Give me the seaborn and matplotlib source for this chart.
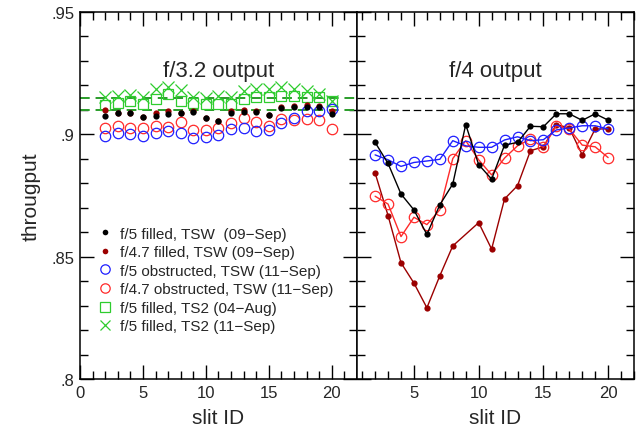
import matplotlib
matplotlib.use("Agg")
import matplotlib.pyplot as plt
import pandas as pd
import seaborn as sns
from matplotlib.ticker import FixedLocator, MultipleLocator


# DATA

slit_id = list(range(2, 21))
slit_id_no9 = [2, 3, 4, 5, 6, 7, 8, 10, 11, 12, 13, 14, 15, 16, 17, 18, 19, 20]

# f/3.2 output (left panel)
left_f5_filled_tsw = [0.9074, 0.9086, 0.9087, 0.9070, 0.9074, 0.9083, 0.9087, 0.9093, 0.9066, 0.9054,
                      0.9086, 0.9090, 0.9093, 0.9079, 0.9108, 0.9110, 0.9113, 0.9113, 0.9083]
left_f47_filled_tsw = [0.9099, 0.9088, 0.9089, 0.9071, 0.9087, 0.9097, 0.9088, 0.9094, 0.9067, 0.9055,
                       0.9097, 0.9099, 0.9094, 0.9081, 0.9111, 0.9115, 0.9118, 0.9117, 0.9094]
left_f5_obstr_tsw = [0.8994, 0.9004, 0.9001, 0.8994, 0.9004, 0.9012, 0.9005, 0.8984, 0.8988, 0.8998,
                     0.9022, 0.9026, 0.9015, 0.9019, 0.9046, 0.9067, 0.9095, 0.9095, 0.9104]
left_f47_obstr_tsw = [0.9026, 0.9035, 0.9024, 0.9024, 0.9032, 0.9031, 0.9049, 0.9019, 0.9019, 0.9027,
                      0.9046, 0.9066, 0.9052, 0.9035, 0.9063, 0.9060, 0.9063, 0.9060, 0.9022]
left_f5_filled_ts2_aug = [0.9121, 0.9128, 0.9135, 0.9124, 0.9144, 0.9165, 0.9137, 0.9128, 0.9124, 0.9125,
                          0.9124, 0.9144, 0.9151, 0.9151, 0.9158, 0.9158, 0.9151, 0.9151, 0.9137]
left_f5_filled_ts2_sep = [0.9154, 0.9158, 0.9161, 0.9154, 0.9185, 0.9192, 0.9182, 0.9151, 0.9149, 0.9158,
                          0.9154, 0.9178, 0.9185, 0.9185, 0.9192, 0.9185, 0.9178, 0.9165, 0.9137]

# f/4 output (right panel)
right_f5_filled_tsw = [0.8967, 0.8881, 0.8756, 0.8691, 0.8591, 0.8712, 0.8797, 0.9040, 0.8876, 0.8817,
                       0.8956, 0.8967, 0.9033, 0.9031, 0.9084, 0.9084, 0.9057, 0.9084, 0.9058]
right_f47_filled_tsw = [0.8842, 0.8668, 0.8475, 0.8392, 0.8291, 0.8422, 0.8544, 0.8639, 0.8531,
                        0.8736, 0.8790, 0.8933, 0.8949, 0.9040, 0.9026, 0.8916, 0.9022, 0.9022]
right_f5_obstr_tsw = [0.8916, 0.8896, 0.8869, 0.8885, 0.8891, 0.8898, 0.8974, 0.8953, 0.8947, 0.8947,
                      0.8977, 0.8990, 0.8974, 0.8978, 0.9018, 0.9026, 0.9035, 0.9035, 0.9022]
right_f47_obstr_tsw = [0.8747, 0.8715, 0.8582, 0.8661, 0.8631, 0.8692, 0.8901, 0.8974, 0.8896, 0.8834,
                       0.8903, 0.8953, 0.8981, 0.8947, 0.9035, 0.9022, 0.8956, 0.8949, 0.8905]

ref_levels = [0.915, 0.910]

labels = ["f/5 filled, TSW  (09\u2212Sep)",
          "f/4.7 filled, TSW (09\u2212Sep)",
          "f/5 obstructed, TSW (11\u2212Sep)",
          "f/4.7 obstructed, TSW (11\u2212Sep)",
          "f/5 filled, TS2 (04\u2212Aug)",
          "f/5 filled, TS2 (11\u2212Sep)"]

BLACK = "black"
DARKRED = "#9b0000"
BLUE = "#1f1fff"
RED = "#ff2a2a"
GREEN = "#2ecc2e"
DGREEN = "#2a9d2a"


# PLOT

sns.set_style("ticks")
plt.rcParams["font.family"] = ["Liberation Sans", "DejaVu Sans"]

fig = plt.figure(figsize=(6.43, 4.39), dpi=100)
ax1 = fig.add_axes([0.1244, 0.1344, 0.4308, 0.8360])
ax2 = fig.add_axes([0.5552, 0.1344, 0.4308, 0.8360])

filled = dict(marker="o", markersize=4.5, markeredgewidth=0)
opened = dict(marker="o", markersize=7.5, markerfacecolor="none", markeredgewidth=0.9)

# left panel: markers only
left = pd.DataFrame({"slit": slit_id,
                     "a": left_f5_filled_tsw, "b": left_f47_filled_tsw,
                     "c": left_f5_obstr_tsw, "d": left_f47_obstr_tsw,
                     "e": left_f5_filled_ts2_aug, "f": left_f5_filled_ts2_sep})

for lev in ref_levels:
    ax1.axhline(lev, color=DGREEN, lw=1.4, ls=(0, (5, 3)), zorder=1)

sns.lineplot(data=left, x="slit", y="e", ax=ax1, linestyle="none", marker="s", markersize=7.5,
             markerfacecolor="none", markeredgecolor=GREEN, markeredgewidth=0.9, color=GREEN,
             label=labels[4], zorder=3)
sns.lineplot(data=left, x="slit", y="f", ax=ax1, linestyle="none", marker="x", markersize=8,
             markeredgecolor=GREEN, markeredgewidth=0.9, color=GREEN, label=labels[5], zorder=3)
sns.lineplot(data=left, x="slit", y="d", ax=ax1, linestyle="none", markeredgecolor=RED, color=RED,
             label=labels[3], zorder=3, **opened)
sns.lineplot(data=left, x="slit", y="c", ax=ax1, linestyle="none", markeredgecolor=BLUE, color=BLUE,
             label=labels[2], zorder=3, **opened)
sns.lineplot(data=left, x="slit", y="b", ax=ax1, linestyle="none", markerfacecolor=DARKRED,
             color=DARKRED, label=labels[1], zorder=3, **filled)
sns.lineplot(data=left, x="slit", y="a", ax=ax1, linestyle="none", markerfacecolor=BLACK,
             color=BLACK, label=labels[0], zorder=4, **filled)

handles, labs = ax1.get_legend_handles_labels()
order = [labs.index(l) for l in labels]
ax1.legend([handles[i] for i in order], labels, loc="lower left", bbox_to_anchor=(0.025, 0.095),
           frameon=False, fontsize=11, handlelength=1.0, handletextpad=0.45, labelspacing=0.3,
           numpoints=1, borderaxespad=0.3, markerscale=0.9)

# right panel: markers joined by lines
for lev in ref_levels:
    ax2.axhline(lev, color="black", lw=0.9, ls=(0, (6, 3)), zorder=1)

sns.lineplot(x=slit_id_no9, y=right_f47_filled_tsw, ax=ax2, color=DARKRED, lw=1,
             markerfacecolor=DARKRED, zorder=3, **filled)
sns.lineplot(x=slit_id, y=right_f47_obstr_tsw, ax=ax2, color=RED, lw=1,
             markeredgecolor=RED, zorder=3, **opened)
sns.lineplot(x=slit_id, y=right_f5_obstr_tsw, ax=ax2, color=BLUE, lw=1,
             markeredgecolor=BLUE, zorder=3, **opened)
sns.lineplot(x=slit_id, y=right_f5_filled_tsw, ax=ax2, color=BLACK, lw=1,
             markerfacecolor=BLACK, zorder=4, **filled)

# axes styling
for ax, title in [(ax1, "f/3.2 output"), (ax2, "f/4 output")]:
    ax.set_ylim(0.8, 0.95)
    ax.yaxis.set_major_locator(FixedLocator([0.8, 0.85, 0.9, 0.95]))
    ax.yaxis.set_minor_locator(MultipleLocator(0.01))
    ax.xaxis.set_major_locator(MultipleLocator(5))
    ax.xaxis.set_minor_locator(MultipleLocator(1))
    ax.tick_params(which="both", direction="in", top=True, right=True, color="black",
                   labelsize=12, pad=4)
    ax.tick_params(which="major", length=10, width=1)
    ax.tick_params(which="minor", length=5.5, width=1)
    for sp in ax.spines.values():
        sp.set_visible(True)
        sp.set_linewidth(1.1)
        sp.set_color("black")
    ax.set_xlabel("slit ID", fontsize=15, labelpad=6)
    ax.text(0.5, 0.84, title, transform=ax.transAxes, ha="center", va="center", fontsize=16)

ax1.set_xlim(0, 22)
ax2.set_xlim(0.6, 22)
ax1.set_yticklabels([".8", ".85", ".9", ".95"])
ax1.set_ylabel("througput", fontsize=15, labelpad=8)
ax2.set_ylabel("")
ax2.tick_params(labelleft=False)
ax2.set_xticks([5, 10, 15, 20])

fig.savefig("out.png", dpi=100)
